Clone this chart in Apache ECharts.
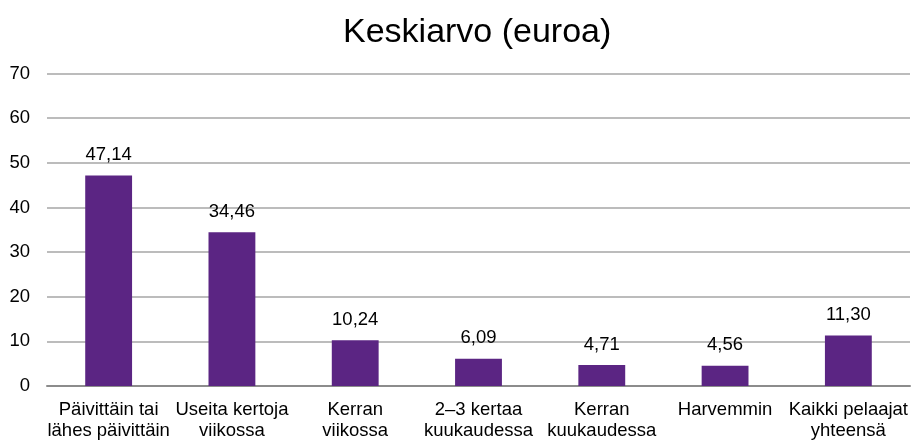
<!DOCTYPE html>
<html>
<head>
<meta charset="utf-8">
<script src="https://cdn.jsdelivr.net/npm/echarts@6/dist/echarts.min.js"></script>
<style>
  html, body { margin: 0; padding: 0; background: #fff; }
  #chart { width: 924px; height: 442px; }
</style>
</head>
<body>
<div id="chart"></div>
<script>
// kategoriat ja arvot
var categories = [
  "Päivittäin tai\nlähes päivittäin",
  "Useita kertoja\nviikossa",
  "Kerran\nviikossa",
  "2–3 kertaa\nkuukaudessa",
  "Kerran\nkuukaudessa",
  "Harvemmin",
  "Kaikki pelaajat\nyhteensä"
];
var values = [47.14, 34.46, 10.24, 6.09, 4.71, 4.56, 11.30];

var myChart = echarts.init(document.getElementById("chart"));
var option = {
  animation: false,
  textStyle: { fontFamily: "Liberation Sans, Arial, sans-serif" },
  title: {
    text: "Keskiarvo (euroa)",
    left: 338,
    top: 11,
    textStyle: { fontSize: 34, fontWeight: "normal", color: "#000" }
  },
  grid: { left: 47, right: 14, top: 73.5, bottom: 56 },
  xAxis: {
    type: "category",
    data: categories,
    axisLine: { lineStyle: { color: "#8c8c8c", width: 2 } },
    axisTick: { show: false },
    axisLabel: {
      interval: 0,
      color: "#000",
      fontSize: 18.5,
      lineHeight: 21,
      margin: 13
    }
  },
  yAxis: {
    type: "value",
    min: 0,
    max: 70,
    interval: 10,
    axisLine: { show: false },
    axisTick: { show: false },
    axisLabel: { color: "#000", fontSize: 18.5, margin: 17 },
    splitLine: { lineStyle: { color: "#a6a6a6", width: 1.5 } }
  },
  series: [
    {
      type: "bar",
      data: values,
      barWidth: "38%",
      itemStyle: { color: "#5b2583" },
      label: {
        show: true,
        position: "top",
        distance: 11,
        color: "#000",
        fontSize: 18.5,
        formatter: function (p) {
          return p.value.toFixed(2).replace(".", ",");
        }
      }
    }
  ]
};
myChart.setOption(option);
window.onresize = myChart.resize;
</script>
</body>
</html>
